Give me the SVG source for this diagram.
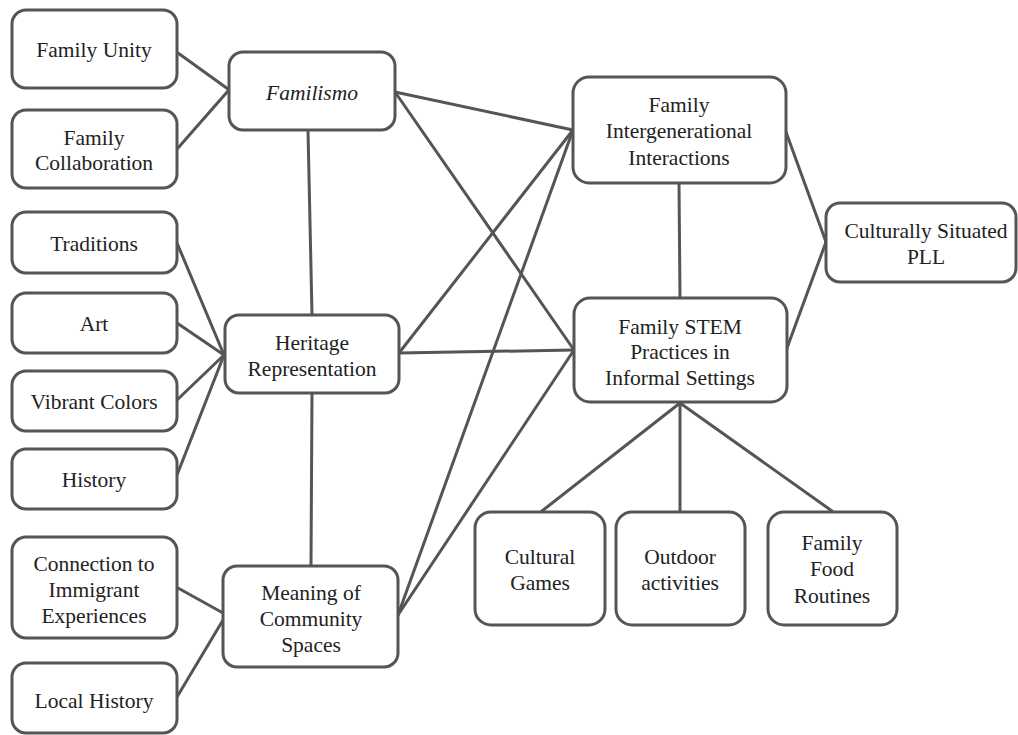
<svg xmlns="http://www.w3.org/2000/svg" width="1018" height="735" viewBox="0 0 1018 735">
<style>
.b{fill:#fff;stroke:#555;stroke-width:3;}
.t{font-family:"Liberation Serif","Times New Roman",serif;font-size:21.5px;fill:#222;text-anchor:middle;}
.i{font-style:italic;}
.c line{stroke:#555;stroke-width:3;stroke-linecap:round;}
</style>
<rect width="1018" height="735" fill="#fff"/>
<g class="c" id="connectors">
<line x1="178" y1="53" x2="228" y2="89"/>
<line x1="178" y1="148" x2="228" y2="91"/>
<line x1="308" y1="130" x2="312" y2="315"/>
<line x1="312" y1="393" x2="311" y2="566"/>
<line x1="177" y1="243" x2="224" y2="355"/>
<line x1="177" y1="323" x2="224" y2="355"/>
<line x1="177" y1="400" x2="224" y2="355"/>
<line x1="177" y1="475" x2="224" y2="355"/>
<line x1="178" y1="588" x2="223" y2="613"/>
<line x1="177" y1="697" x2="223" y2="620"/>
<line x1="395" y1="92" x2="573" y2="130"/>
<line x1="395" y1="92" x2="574" y2="350"/>
<line x1="399" y1="353" x2="573" y2="130"/>
<line x1="399" y1="353" x2="574" y2="350"/>
<line x1="398" y1="615" x2="573" y2="130"/>
<line x1="398" y1="615" x2="574" y2="350"/>
<line x1="679" y1="183" x2="680" y2="298"/>
<line x1="786" y1="132" x2="826" y2="242"/>
<line x1="787" y1="348" x2="826" y2="242"/>
<line x1="680" y1="403" x2="542" y2="511"/>
<line x1="680" y1="403" x2="680" y2="511"/>
<line x1="680" y1="403" x2="832" y2="511"/>
</g>
<g id="family-unity"><rect class="b" x="12" y="10" width="165" height="78" rx="14"/><text class="t" x="94" y="57">Family Unity</text></g>
<g id="family-collaboration"><rect class="b" x="12" y="110" width="165" height="78" rx="14"/><text class="t" x="94" y="145">Family</text><text class="t" x="94" y="170">Collaboration</text></g>
<g id="familismo"><rect class="b" x="229" y="52" width="166" height="78" rx="14"/><text class="t i" x="312" y="100">Familismo</text></g>
<g id="traditions"><rect class="b" x="12" y="212" width="165" height="61" rx="14"/><text class="t" x="94" y="251">Traditions</text></g>
<g id="art"><rect class="b" x="12" y="293" width="165" height="60" rx="14"/><text class="t" x="94" y="331">Art</text></g>
<g id="vibrant-colors"><rect class="b" x="12" y="371" width="165" height="60" rx="14"/><text class="t" x="94" y="409">Vibrant Colors</text></g>
<g id="history"><rect class="b" x="12" y="449" width="165" height="60" rx="14"/><text class="t" x="94" y="487">History</text></g>
<g id="heritage"><rect class="b" x="225" y="315" width="174" height="78" rx="14"/><text class="t" x="312" y="350">Heritage</text><text class="t" x="312" y="376">Representation</text></g>
<g id="connection"><rect class="b" x="12" y="537" width="165" height="101" rx="14"/><text class="t" x="94" y="571">Connection to</text><text class="t" x="94" y="597">Immigrant</text><text class="t" x="94" y="623">Experiences</text></g>
<g id="local-history"><rect class="b" x="12" y="663" width="165" height="70" rx="14"/><text class="t" x="94" y="708">Local History</text></g>
<g id="meaning"><rect class="b" x="223" y="566" width="175" height="101" rx="14"/><text class="t" x="311" y="600">Meaning of</text><text class="t" x="311" y="626">Community</text><text class="t" x="311" y="652">Spaces</text></g>
<g id="fii"><rect class="b" x="573" y="77" width="213" height="106" rx="16"/><text class="t" x="679" y="112">Family</text><text class="t" x="679" y="138">Intergenerational</text><text class="t" x="679" y="165">Interactions</text></g>
<g id="fstem"><rect class="b" x="574" y="298" width="213" height="104" rx="16"/><text class="t" x="680" y="334">Family STEM</text><text class="t" x="680" y="359">Practices in</text><text class="t" x="680" y="385">Informal Settings</text></g>
<g id="cspll"><rect class="b" x="826" y="203" width="190" height="79" rx="14"/><text class="t" x="926" y="238">Culturally Situated</text><text class="t" x="926" y="264">PLL</text></g>
<g id="cultural-games"><rect class="b" x="475" y="512" width="130" height="113" rx="16"/><text class="t" x="540" y="564">Cultural</text><text class="t" x="540" y="590">Games</text></g>
<g id="outdoor"><rect class="b" x="616" y="512" width="129" height="113" rx="16"/><text class="t" x="680" y="564">Outdoor</text><text class="t" x="680" y="590">activities</text></g>
<g id="food"><rect class="b" x="768" y="512" width="129" height="113" rx="16"/><text class="t" x="832" y="550">Family</text><text class="t" x="832" y="576">Food</text><text class="t" x="832" y="603">Routines</text></g>
</svg>
